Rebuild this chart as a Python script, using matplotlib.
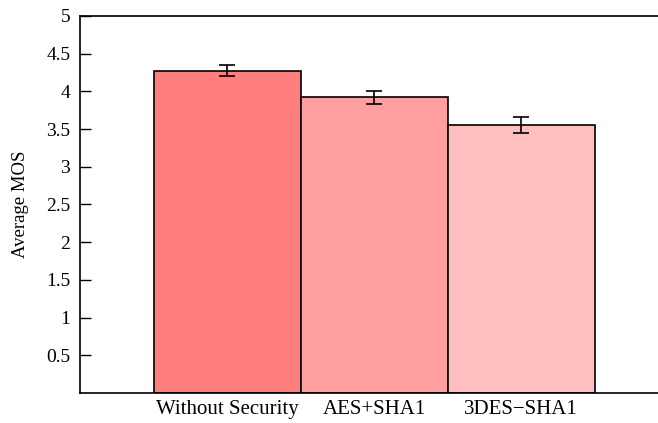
import matplotlib
matplotlib.use("Agg")
import matplotlib.pyplot as plt

categories = ["Without Security", "AES+SHA1", "3DES\u2212SHA1"]
mos_values = [4.27, 3.92, 3.55]
err_low = [4.20, 3.83, 3.45]
err_high = [4.35, 4.01, 3.66]
bar_colors = ["#FF7F7F", "#FF9F9F", "#FFBFBF"]
y_ticks = [0.5, 1, 1.5, 2, 2.5, 3, 3.5, 4, 4.5, 5]
y_tick_labels = ["0.5", "1", "1.5", "2", "2.5", "3", "3.5", "4", "4.5", "5"]

plt.rcParams["font.family"] = ["Liberation Serif", "DejaVu Serif"]

fig = plt.figure(figsize=(6.58, 4.23), dpi=100)
ax = fig.add_axes([80 / 658, 30 / 423, 588 / 658, 377 / 423])

x = list(range(len(categories)))
yerr = [[v - lo for v, lo in zip(mos_values, err_low)],
        [hi - v for v, hi in zip(mos_values, err_high)]]
ax.bar(x, mos_values, width=1.0, color=bar_colors, edgecolor="black", linewidth=1.2)
ax.errorbar(x, mos_values, yerr=yerr, fmt="none", ecolor="black",
            elinewidth=1.2, capsize=6, capthick=1.2)

ax.set_xlim(-1, 3)
ax.set_ylim(0, 5)
ax.set_xticks(x)
ax.set_xticklabels(categories, fontsize=15)
ax.set_yticks(y_ticks)
ax.set_yticklabels(y_tick_labels, fontsize=14)
ax.tick_params(axis="y", direction="in", length=8, width=1.0, pad=7)
ax.tick_params(axis="x", length=0, pad=5)
ax.set_ylabel("Average MOS", fontsize=13.5, labelpad=12)
for s in ax.spines.values():
    s.set_linewidth(1.2)

fig.savefig("out.png", dpi=100)
